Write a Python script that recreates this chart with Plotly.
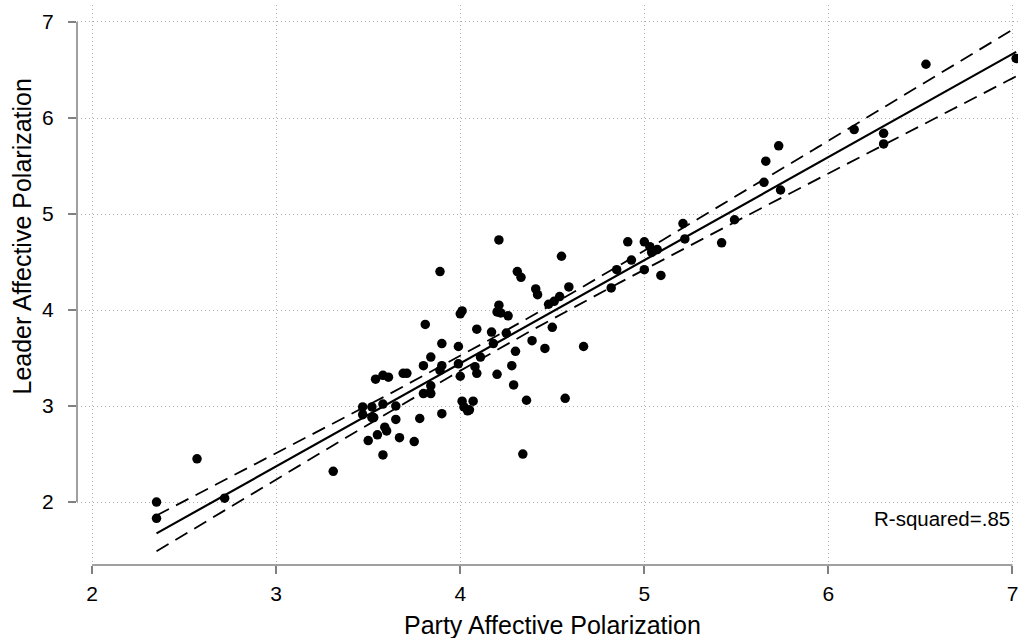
import numpy as np
import plotly.graph_objects as go

# Party affective polarization (x) and leader affective polarization (y)
party = [2.35, 2.35, 2.57, 2.72, 3.31, 3.47, 3.52, 3.47, 3.52, 3.53,
         3.58, 3.65, 3.59, 3.60, 3.50, 3.55, 3.58, 3.65, 3.67, 3.78,
         3.75, 3.90, 3.54, 3.58, 3.61, 3.69, 3.71, 3.80, 3.84, 3.84,
         3.84, 3.80, 3.90, 3.89, 3.99, 4.01, 4.02, 4.04, 4.07, 4.05,
         4.34, 4.00, 4.09, 4.20, 4.29, 4.36, 4.57, 3.89, 4.01, 4.00,
         3.81, 3.90, 3.99, 4.21, 4.55, 4.31, 4.33, 4.41, 4.42, 4.59,
         4.54, 4.51, 4.48, 4.21, 4.20, 4.22, 4.26, 4.09, 4.17, 4.25,
         4.50, 4.18, 4.39, 4.46, 4.67, 4.30, 4.11, 4.08, 4.28, 4.91,
         5.00, 5.03, 5.04, 5.07, 4.93, 4.85, 5.00, 5.09, 4.82, 5.21,
         5.22, 5.42, 5.49, 6.53, 7.02, 6.14, 6.30, 6.30, 5.73, 5.66,
         5.65, 5.74]
leader = [2.00, 1.83, 2.45, 2.04, 2.32, 2.99, 2.99, 2.91, 2.88, 2.88,
          3.02, 3.00, 2.78, 2.74, 2.64, 2.70, 2.49, 2.86, 2.67, 2.87,
          2.63, 2.92, 3.28, 3.32, 3.30, 3.34, 3.34, 3.13, 3.21, 3.13,
          3.51, 3.42, 3.42, 3.37, 3.44, 3.05, 2.99, 2.95, 3.05, 2.96,
          2.50, 3.31, 3.34, 3.33, 3.22, 3.06, 3.08, 4.40, 3.99, 3.96,
          3.85, 3.65, 3.62, 4.73, 4.56, 4.40, 4.34, 4.22, 4.16, 4.24,
          4.14, 4.09, 4.06, 4.05, 3.98, 3.97, 3.94, 3.80, 3.77, 3.76,
          3.82, 3.65, 3.68, 3.60, 3.62, 3.57, 3.51, 3.41, 3.42, 4.71,
          4.71, 4.66, 4.60, 4.63, 4.52, 4.42, 4.42, 4.36, 4.23, 4.90,
          4.74, 4.70, 4.94, 6.56, 6.62, 5.88, 5.84, 5.73, 5.71, 5.55,
          5.33, 5.25]

x_ticks = [2, 3, 4, 5, 6, 7]
y_ticks = [2, 3, 4, 5, 6, 7]
x_title = "Party Affective Polarization"
y_title = "Leader Affective Polarization"
r2_label = "R-squared=.85"

xa = np.array(party)
ya = np.array(leader)
n = len(xa)
slope, intercept = np.polyfit(xa, ya, 1)
resid = ya - (intercept + slope * xa)
s = np.sqrt(np.sum(resid ** 2) / (n - 2))
sxx = np.sum((xa - xa.mean()) ** 2)
xf = np.linspace(xa.min(), xa.max(), 200)
yf = intercept + slope * xf
se = s * np.sqrt(1.0 / n + (xf - xa.mean()) ** 2 / sxx)
tcrit = 1.984
lo = yf - tcrit * se
hi = yf + tcrit * se

fig = go.Figure()
fig.add_trace(go.Scatter(x=party, y=leader, mode="markers",
                         marker=dict(color="black", size=9.5), showlegend=False))
fig.add_trace(go.Scatter(x=xf, y=hi, mode="lines",
                         line=dict(color="black", width=1.8, dash="14px,8px"), showlegend=False))
fig.add_trace(go.Scatter(x=xf, y=lo, mode="lines",
                         line=dict(color="black", width=1.8, dash="14px,8px"), showlegend=False))
fig.add_trace(go.Scatter(x=xf, y=yf, mode="lines",
                         line=dict(color="black", width=2.2), showlegend=False))

font = "Liberation Sans, Arial, sans-serif"
axis_gray = "#808080"
grid_gray = "#b0b0b0"
fig.update_layout(
    width=1018, height=638,
    margin=dict(l=77, r=0, t=5, b=73, autoexpand=False),
    paper_bgcolor="white", plot_bgcolor="white",
    font=dict(family=font, color="black"),
    xaxis=dict(range=[1.918, 7.03], tickvals=x_ticks, ticks="outside", ticklen=8,
               tickcolor=axis_gray, tickwidth=1.5, showline=False, zeroline=False,
               showgrid=True, gridcolor=grid_gray, griddash="1px,3px", gridwidth=1.2,
               tickfont=dict(size=21, family=font), automargin=False,
               ticklabelstandoff=2, ticklabeloverflow="allow"),
    yaxis=dict(range=[1.344, 7.177], tickvals=y_ticks, ticks="outside", ticklen=8,
               tickcolor=axis_gray, tickwidth=1.5, showline=False, zeroline=False,
               showgrid=True, gridcolor=grid_gray, griddash="1px,3px", gridwidth=1.2,
               tickfont=dict(size=21, family=font), automargin=False,
               ticklabelstandoff=10, ticklabeloverflow="allow"),
    shapes=[
        dict(type="line", xref="x", yref="paper", x0=x_ticks[0], x1=x_ticks[-1], y0=0, y1=0,
             line=dict(color=axis_gray, width=1.5)),
        dict(type="line", xref="paper", yref="y", x0=0, x1=0, y0=y_ticks[0], y1=y_ticks[-1],
             line=dict(color=axis_gray, width=1.5)),
    ],
    annotations=[
        dict(text=r2_label, x=x_ticks[-1], y=1.83, xref="x", yref="y",
             xanchor="right", yanchor="middle", showarrow=False,
             font=dict(size=20.5, family=font, color="black")),
        dict(text=x_title, x=4.5, y=0, xref="x", yref="paper", yshift=-60,
             xanchor="center", yanchor="middle", showarrow=False,
             font=dict(size=25, family=font, color="black")),
        dict(text=y_title, x=0, y=0.5866, xref="paper", yref="paper", xshift=-55,
             xanchor="center", yanchor="middle", textangle=-90, showarrow=False,
             font=dict(size=25, family=font, color="black")),
    ],
)

fig.write_html("out.html", config={"displayModeBar": False},
               post_script="document.body.style.margin='0px';document.body.style.overflow='hidden';")
